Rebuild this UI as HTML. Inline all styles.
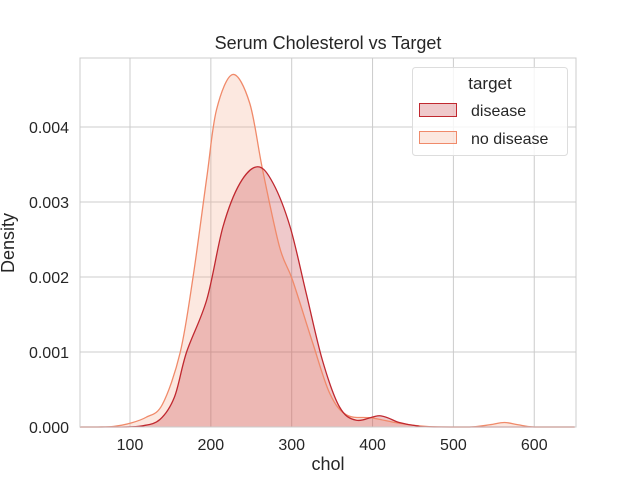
<!DOCTYPE html>
<html><head><meta charset="utf-8"><style>
body{margin:0;background:#fff;}
svg{display:block;font-family:"Liberation Sans","DejaVu Sans",sans-serif;}
</style></head><body>
<svg id="chart" width="640" height="480" viewBox="0 0 640 480">
<rect x="0" y="0" width="640" height="480" fill="#fff"/>
<g id="grid"></g>
<g id="series"></g>
<rect x="80" y="58" width="496" height="369" fill="none" stroke="#ccc" stroke-width="1"/>
<g id="ticks" font-size="16" fill="#262626"></g>
<text x="328" y="49" text-anchor="middle" font-size="18" fill="#262626">Serum Cholesterol vs Target</text>
<text x="328" y="470" text-anchor="middle" font-size="18" fill="#262626">chol</text>
<text x="14" y="243" text-anchor="middle" font-size="18" fill="#262626" transform="rotate(-90 14 243)">Density</text>
<g>
<rect x="412.5" y="67.5" width="155" height="88" rx="3" fill="#fff" fill-opacity="0.8" stroke="#ddd"/>
<text x="490" y="89" text-anchor="middle" font-size="17" fill="#262626">target</text>
<rect x="419.5" y="103.5" width="37" height="13" fill="#c0282f" fill-opacity="0.25" stroke="#c0282f"/>
<text x="471" y="116" font-size="16" fill="#262626">disease</text>
<rect x="419.5" y="131.5" width="37" height="12" fill="#f4a582" fill-opacity="0.25" stroke="#f08a6a"/>
<text x="471" y="144" font-size="16" fill="#262626">no disease</text>
</g>
</svg>
<script>
const xTicks=[100,200,300,400,500,600];
const yTicks=[0,0.001,0.002,0.003,0.004];
const yTickLabels=["0.000","0.001","0.002","0.003","0.004"];
const noDiseaseX=[38,60,80,100,120,140,162,178,195,207,227,248,264,285,301,326,347,368,400,433,470,520,545,563,580,600,650];
const noDiseaseY=[0,0,0.000008,0.00005,0.00013,0.0003,0.00099,0.002,0.00333,0.00423,0.0047,0.00432,0.00343,0.0024,0.00196,0.00112,0.00045,0.00016,0.00012,0.00005,0.000005,0,0.00003,0.00006,0.00003,0,0];
const diseaseX=[38,90,115,137,155,170,195,215,236,258,277,298,318,338,359,380,409,433,455,480,650];
const diseaseY=[0,0,0.000015,0.0001,0.0004,0.001,0.0017,0.00267,0.00325,0.00347,0.00325,0.00267,0.00178,0.00089,0.00027,0.00009,0.00015,0.00006,0.000015,0,0];
const NS='http://www.w3.org/2000/svg';
const sx=v=>130+(v-100)*0.8085;
const sy=v=>427-v*75000;
const grid=document.getElementById('grid'),ticks=document.getElementById('ticks'),ser=document.getElementById('series');
function mk(tag,attrs,parent){const e=document.createElementNS(NS,tag);for(const k in attrs)e.setAttribute(k,attrs[k]);parent.appendChild(e);return e;}
xTicks.forEach(t=>{
 const l=mk('line',{x1:sx(t),x2:sx(t),y1:58,y2:427,stroke:'#ccc'},grid);
 
 
 const tx=mk('text',{x:sx(t),y:450,'text-anchor':'middle'},ticks);tx.textContent=t;
 
 
});
yTicks.forEach((t,i)=>{
 const l=mk('line',{x1:80,x2:576,y1:sy(t),y2:sy(t),stroke:'#ccc'},grid);
 
 
 const tx=mk('text',{x:69,y:sy(t)+6,'text-anchor':'end'},ticks);tx.textContent=yTickLabels[i];
 
 
});
function curve(xs,ys){
 const p=xs.map((x,i)=>[Math.max(80,Math.min(576,sx(x))),sy(ys[i])]);
 let d='M'+p[0][0]+','+p[0][1];
 for(let i=0;i<p.length-1;i++){
  const p0=p[i-1]||p[i],p1=p[i],p2=p[i+1],p3=p[i+2]||p2;
  const c1=[p1[0]+(p2[0]-p0[0])/6,p1[1]+(p2[1]-p0[1])/6];
  const c2=[p2[0]-(p3[0]-p1[0])/6,p2[1]-(p3[1]-p1[1])/6];
  c1[1]=Math.min(427,c1[1]);c2[1]=Math.min(427,c2[1]);
  d+=' C'+c1[0]+','+c1[1]+' '+c2[0]+','+c2[1]+' '+p2[0]+','+p2[1];
 }
 return d;
}
const dN=curve(noDiseaseX,noDiseaseY),dD=curve(diseaseX,diseaseY);
const a1=mk('path',{d:dN+' L576,427 L80,427 Z',fill:'#f4a582','fill-opacity':0.25,stroke:'none'},ser);


const a2=mk('path',{d:dD+' L576,427 L80,427 Z',fill:'#c0282f','fill-opacity':0.25,stroke:'none'},ser);


const l1=mk('path',{d:dN,fill:'none',stroke:'#f08a6a','stroke-width':1.3},ser);


const l2=mk('path',{d:dD,fill:'none',stroke:'#c0282f','stroke-width':1.3},ser);


</script>
</body></html>
